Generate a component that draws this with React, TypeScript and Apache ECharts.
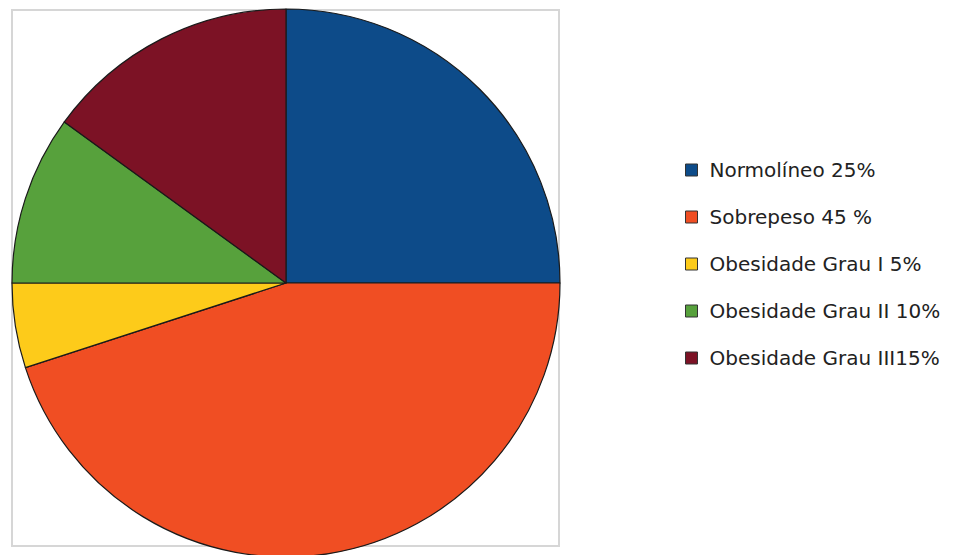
import React, { useEffect, useRef } from "react";
import * as echarts from "echarts";

const categories = [
  "Normolíneo 25%",
  "Sobrepeso 45 %",
  "Obesidade Grau I 5%",
  "Obesidade Grau II 10%",
  "Obesidade Grau III15%",
];
const values = [25, 45, 5, 10, 15];
const colors = ["#0D4B89", "#F04E23", "#FDCB1A", "#57A13C", "#7C1225"];

export default function App() {
  const ref = useRef<HTMLDivElement>(null);
  useEffect(() => {
    document.body.style.margin = "0";
    const chart = echarts.init(ref.current!, null, { renderer: "svg" });
    chart.setOption({
      animation: false,
      backgroundColor: "#ffffff",
      color: colors,
      graphic: [
        {
          type: "rect",
          z: 0,
          shape: { x: 12, y: 10, width: 547, height: 536 },
          style: { fill: "none", stroke: "#d6d6d6", lineWidth: 2 },
        },
      ],
      legend: {
        orient: "vertical",
        left: 685,
        top: 158,
        padding: 0,
        icon: "rect",
        itemWidth: 12,
        itemHeight: 12,
        itemGap: 23,
        itemStyle: { borderColor: "#333", borderWidth: 1 },
        textStyle: {
          fontFamily: "DejaVu Sans",
          fontSize: 20,
          color: "#222",
          lineHeight: 24,
          padding: [0, 0, 0, 7],
        },
        data: categories,
      },
      series: [
        {
          type: "pie",
          center: [286, 283],
          radius: 274,
          startAngle: 90,
          clockwise: true,
          label: { show: false },
          labelLine: { show: false },
          emphasis: { disabled: true },
          itemStyle: { borderColor: "#1a1a1a", borderWidth: 1.2 },
          data: categories.map((name, i) => ({ name, value: values[i] })),
        },
      ],
    });
    return () => chart.dispose();
  }, []);
  return <div ref={ref} style={{ width: 964, height: 555 }} />;
}
